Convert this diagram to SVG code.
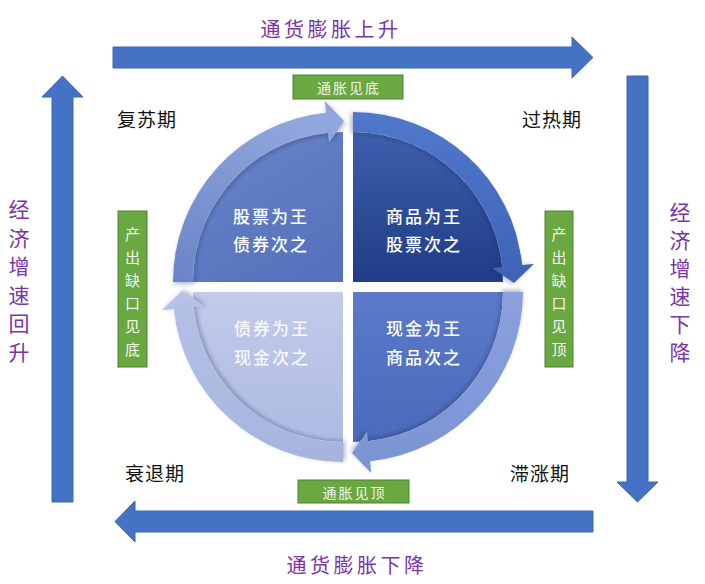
<svg xmlns="http://www.w3.org/2000/svg" width="705" height="584" viewBox="0 0 705 584">
<style>
.big{fill:#4472c4;stroke:#3d66b0;stroke-width:1}
.pur{font-family:"Noto Sans CJK SC","Noto Sans",sans-serif;fill:#7a35a8;font-size:20px;letter-spacing:3.5px}
.purv{font-family:"Noto Sans CJK SC","Noto Sans",sans-serif;fill:#7a35a8;font-size:21px;text-anchor:middle;dominant-baseline:central}
.per{font-family:"Noto Sans CJK SC","Noto Sans",sans-serif;fill:#111;font-size:19px;letter-spacing:1px;dominant-baseline:central}
.gbox{fill:#6aa842;stroke:#4f8030;stroke-width:1}
.gt{font-family:"Noto Sans CJK SC","Noto Sans",sans-serif;fill:#f2f7ec;font-size:14px;text-anchor:middle;dominant-baseline:central;letter-spacing:2px}
.gtv{font-family:"Noto Sans CJK SC","Noto Sans",sans-serif;fill:#f2f7ec;font-size:15px;text-anchor:middle;dominant-baseline:central}
.qt{font-family:"Noto Sans CJK SC","Noto Sans",sans-serif;fill:#ffffff;font-size:17px;font-weight:500;text-anchor:middle;dominant-baseline:central;letter-spacing:2px}
</style>
<defs>
<path id="band" d="M -170 0 A 170 170 0 0 1 -17 -169.15 L -18.1 -181 L 1 -161 L -14 -139.3 L -15 -149.25 A 150 150 0 0 0 -150 0 Z"/>
<path id="body" d="M 0 0 L -150 0 A 150 150 0 0 1 0 -150 Z"/>
<filter id="sh" x="-20%" y="-20%" width="140%" height="140%">
<feDropShadow dx="1" dy="2" stdDeviation="2" flood-color="#1a2a55" flood-opacity="0.35"/>
</filter>
<linearGradient id="gTLb" x1="0" y1="0" x2="0.6" y2="1"><stop offset="0" stop-color="#6987ca"/><stop offset="1" stop-color="#5672bc"/></linearGradient>
<linearGradient id="gTLa" x1="0" y1="1" x2="0.5" y2="0"><stop offset="0" stop-color="#6a84c8"/><stop offset="1" stop-color="#90a6dc"/></linearGradient>
<linearGradient id="gTRb" x1="0" y1="0" x2="1" y2="0"><stop offset="0" stop-color="#3e5fab"/><stop offset="1" stop-color="#203d86"/></linearGradient>
<linearGradient id="gTRa" x1="0" y1="0" x2="1" y2="0"><stop offset="0" stop-color="#5078cb"/><stop offset="1" stop-color="#3e63b7"/></linearGradient>
<linearGradient id="gBRb" x1="0" y1="1" x2="0" y2="0"><stop offset="0" stop-color="#5b7ac8"/><stop offset="1" stop-color="#4a6abb"/></linearGradient>
<linearGradient id="gBRa" x1="0" y1="1" x2="0" y2="0"><stop offset="0" stop-color="#8aa1dc"/><stop offset="1" stop-color="#7a93d4"/></linearGradient>
<linearGradient id="gBLb" x1="1" y1="0" x2="0" y2="0"><stop offset="0" stop-color="#c2cbea"/><stop offset="1" stop-color="#adbae2"/></linearGradient>
<linearGradient id="gBLa" x1="1" y1="0" x2="0" y2="0"><stop offset="0" stop-color="#b6c2e7"/><stop offset="1" stop-color="#a6b4de"/></linearGradient>
</defs>
<rect width="705" height="584" fill="#ffffff"/>

<g id="connectors">
<polygon class="big" points="113,47 572,47 572,37 593,57.5 572,78 572,68 113,68"/>
<polygon class="big" points="627,76 648,76 648,482 658,482 637.5,502 617,482 627,482"/>
<polygon class="big" points="593,511 593,532 135,532 135,542 115,521.5 135,501 135,511"/>
<polygon class="big" points="52,502 73,502 73,97 83,97 62.5,76 42,97 52,97"/>
</g>

<g id="label-infl-up"><text class="pur" x="331" y="28" text-anchor="middle" dominant-baseline="central">通货膨胀上升</text></g>
<g id="label-infl-down"><text class="pur" x="357" y="564" text-anchor="middle" dominant-baseline="central">通货膨胀下降</text></g>
<g id="label-growth-up">
<text class="purv" x="19" y="208">经</text><text class="purv" x="19" y="236.5">济</text><text class="purv" x="19" y="265">增</text><text class="purv" x="19" y="293.5">速</text><text class="purv" x="19" y="322">回</text><text class="purv" x="19" y="350.5">升</text>
</g>
<g id="label-growth-down">
<text class="purv" x="680" y="211">经</text><text class="purv" x="680" y="239">济</text><text class="purv" x="680" y="267">增</text><text class="purv" x="680" y="295">速</text><text class="purv" x="680" y="323">下</text><text class="purv" x="680" y="351">降</text>
</g>

<g id="q-recovery">
<g transform="translate(343,282)">
<use href="#body" fill="url(#gTLb)"/>
<use href="#band" fill="url(#gTLa)" filter="url(#sh)"/>
</g>
<text class="qt" x="271" y="215">股票为王</text>
<text class="qt" x="271" y="243">债券次之</text>
</g>
<g id="q-overheat">
<g transform="translate(353,282) rotate(90)">
<use href="#body" fill="url(#gTRb)"/>
<use href="#band" fill="url(#gTRa)" filter="url(#sh)"/>
</g>
<text class="qt" x="424" y="215">商品为王</text>
<text class="qt" x="424" y="243">股票次之</text>
</g>
<g id="q-stagflation">
<g transform="translate(353,292) rotate(180)">
<use href="#body" fill="url(#gBRb)"/>
<use href="#band" fill="url(#gBRa)" filter="url(#sh)"/>
</g>
<text class="qt" x="424" y="327">现金为王</text>
<text class="qt" x="424" y="356">商品次之</text>
</g>
<g id="q-recession">
<g transform="translate(343,292) rotate(270)">
<use href="#body" fill="url(#gBLb)"/>
<use href="#band" fill="url(#gBLa)" filter="url(#sh)"/>
</g>
<text class="qt" x="272" y="327" fill-opacity="0.9">债券为王</text>
<text class="qt" x="272" y="356" fill-opacity="0.9">现金次之</text>
</g>

<g id="period-recovery"><text class="per" x="117" y="118">复苏期</text></g>
<g id="period-overheat"><text class="per" x="522" y="118">过热期</text></g>
<g id="period-recession"><text class="per" x="125" y="472">衰退期</text></g>
<g id="period-stagflation"><text class="per" x="510" y="472">滞涨期</text></g>

<g id="tag-infl-bottom">
<rect class="gbox" x="293" y="75" width="110" height="24"/>
<text class="gt" x="349" y="87">通胀见底</text>
</g>
<g id="tag-infl-top">
<rect class="gbox" x="298" y="480" width="111" height="23"/>
<text class="gt" x="354.5" y="491.5">通胀见顶</text>
</g>
<g id="tag-gap-bottom">
<rect class="gbox" x="118" y="211" width="29" height="156"/>
<text class="gtv" x="132.5" y="233">产</text><text class="gtv" x="132.5" y="256">出</text><text class="gtv" x="132.5" y="279">缺</text><text class="gtv" x="132.5" y="302">口</text><text class="gtv" x="132.5" y="325">见</text><text class="gtv" x="132.5" y="348">底</text>
</g>
<g id="tag-gap-top">
<rect class="gbox" x="545" y="211" width="28" height="156"/>
<text class="gtv" x="559" y="233">产</text><text class="gtv" x="559" y="256">出</text><text class="gtv" x="559" y="279">缺</text><text class="gtv" x="559" y="302">口</text><text class="gtv" x="559" y="325">见</text><text class="gtv" x="559" y="348">顶</text>
</g>
</svg>
